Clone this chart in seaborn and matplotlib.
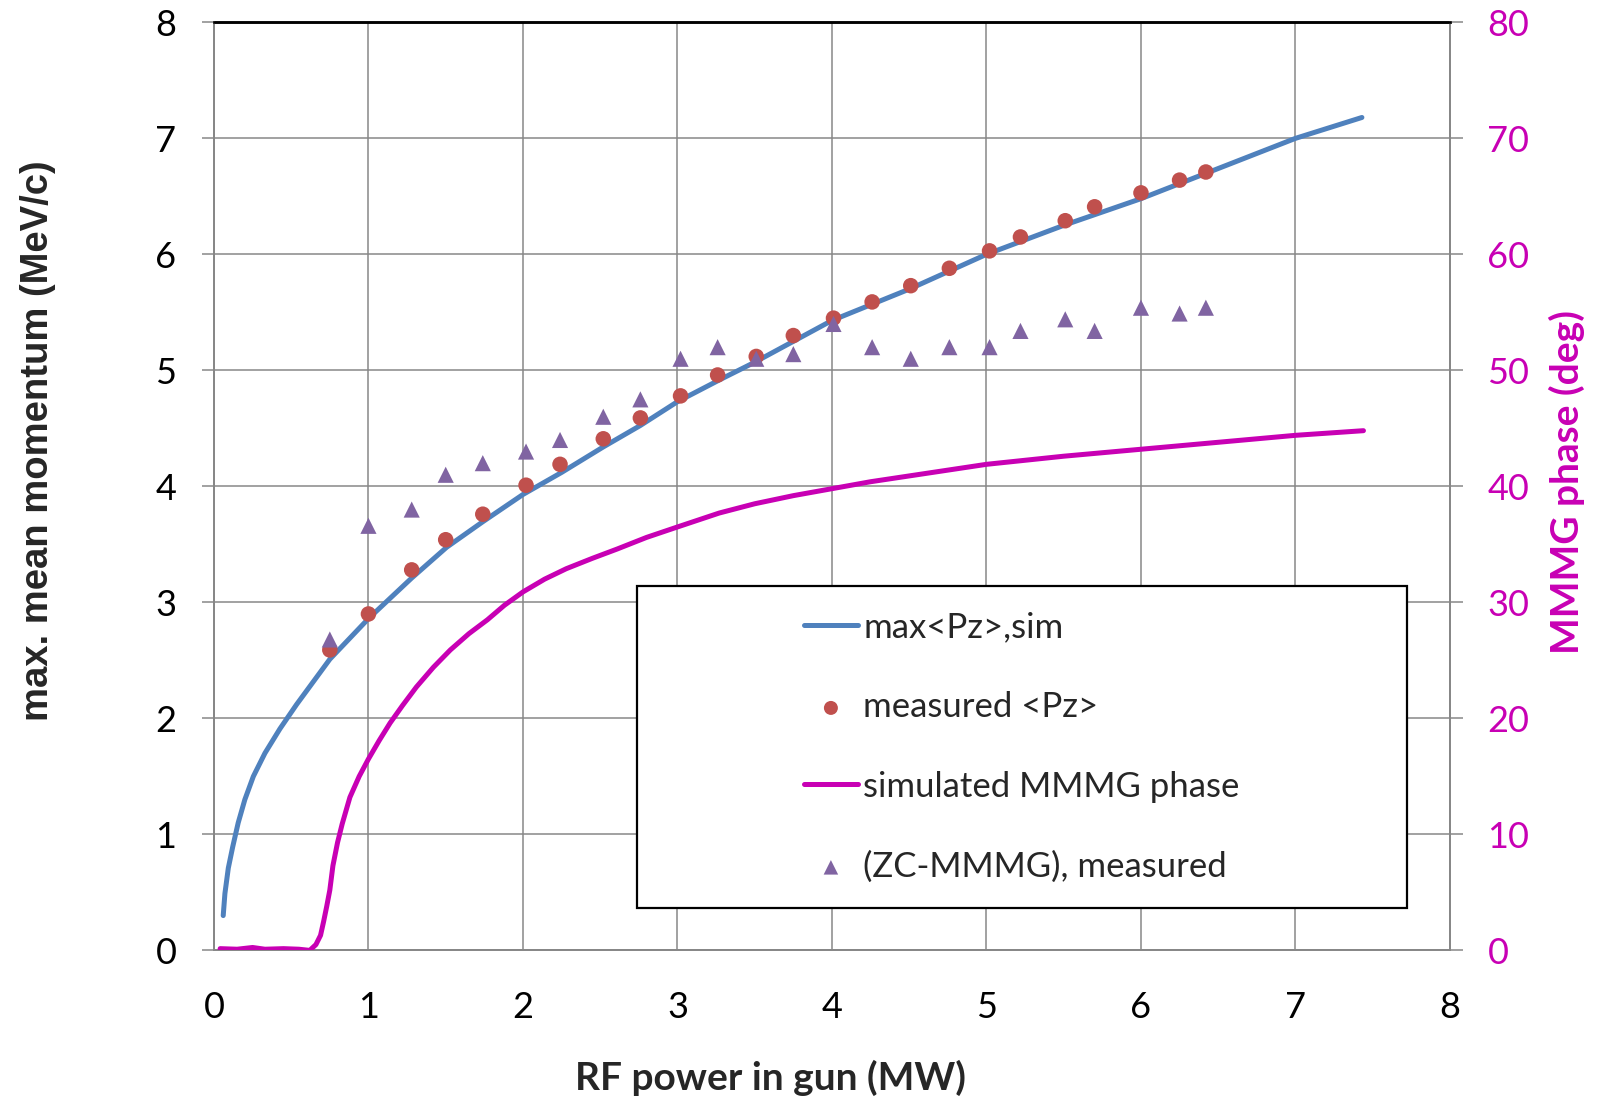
import matplotlib
matplotlib.use("Agg")
import matplotlib.pyplot as plt
from matplotlib.patches import Rectangle
import seaborn as sns
import pandas as pd

# Simulated maximum mean momentum vs RF power (MeV/c)
sim_power = [0.06, 0.071, 0.093, 0.121, 0.157, 0.20, 0.255, 0.33, 0.427, 0.535, 0.75,
             1.0, 1.28, 1.506, 1.74, 2.0, 2.25, 2.52, 2.76, 3.0, 3.275, 3.5, 4.0,
             4.5, 5.0, 5.5, 6.0, 6.5, 7.0, 7.43]
sim_pz = [0.30, 0.49, 0.71, 0.89, 1.10, 1.30, 1.50, 1.70, 1.91, 2.12, 2.51,
          2.86, 3.21, 3.475, 3.695, 3.93, 4.12, 4.34, 4.525, 4.73, 4.92, 5.07, 5.43,
          5.70, 6.00, 6.25, 6.48, 6.74, 7.00, 7.18]

# Measured mean momentum (MeV/c)
meas_power = [0.75, 1.00, 1.28, 1.50, 1.74, 2.02, 2.24, 2.52, 2.76, 3.02, 3.26, 3.51,
              3.75, 4.01, 4.26, 4.51, 4.76, 5.02, 5.22, 5.51, 5.70, 6.00, 6.25, 6.42]
meas_pz = [2.59, 2.90, 3.28, 3.54, 3.76, 4.01, 4.19, 4.41, 4.59, 4.78, 4.96, 5.12,
           5.30, 5.45, 5.59, 5.73, 5.88, 6.03, 6.15, 6.29, 6.41, 6.53, 6.64, 6.71]

# Simulated MMMG phase (deg)
phase_power = [0.04, 0.15, 0.25, 0.33, 0.45, 0.55, 0.62, 0.66, 0.69, 0.71, 0.73, 0.75,
               0.77, 0.80, 0.83, 0.88, 0.94, 1.0, 1.07, 1.14, 1.22, 1.31, 1.42, 1.53,
               1.65, 1.77, 1.88, 2.0, 2.14, 2.28, 2.45, 2.61, 2.8, 3.0, 3.27, 3.5,
               3.75, 4.0, 4.25, 4.5, 5.0, 5.5, 6.0, 6.5, 7.0, 7.44]
phase_sim = [0.15, 0.1, 0.25, 0.1, 0.15, 0.1, 0.0, 0.5, 1.3, 2.5, 3.8, 5.2,
             7.3, 9.3, 10.9, 13.2, 15.0, 16.5, 18.1, 19.6, 21.1, 22.7, 24.4, 25.9,
             27.3, 28.5, 29.75, 30.9, 32.0, 32.9, 33.8, 34.6, 35.6, 36.5, 37.7, 38.5,
             39.2, 39.8, 40.4, 40.9, 41.9, 42.6, 43.2, 43.8, 44.4, 44.8]

# Measured (ZC - MMMG) phase (deg)
zc_power = [0.75, 1.00, 1.28, 1.50, 1.74, 2.02, 2.24, 2.52, 2.76, 3.02, 3.26, 3.51,
            3.75, 4.01, 4.26, 4.51, 4.76, 5.02, 5.22, 5.51, 5.70, 6.00, 6.25, 6.42]
zc_phase = [26.8, 36.6, 38.0, 41.0, 42.0, 43.0, 44.0, 46.0, 47.5, 51.0, 52.0, 51.0,
            51.4, 54.0, 52.0, 51.0, 52.0, 52.0, 53.4, 54.4, 53.4, 55.4, 54.9, 55.4]

x_ticks = [0, 1, 2, 3, 4, 5, 6, 7, 8]
left_ticks = [0, 1, 2, 3, 4, 5, 6, 7, 8]
right_ticks = [0, 10, 20, 30, 40, 50, 60, 70, 80]

BLUE = "#4F81BD"
RED = "#C0504D"
PURPLE = "#8064A2"
MAGENTA = "#C800B4"
GRID = "#878787"

sns.set_style("white")
plt.rcParams["font.family"] = ["Lato", "DejaVu Sans"]

fig = plt.figure(figsize=(15.99, 11.01), dpi=100)
ax = fig.add_axes([0.1338, 0.1368, 0.7730, 0.8429])
ax2 = ax.twinx()

sim_df = pd.DataFrame({"power": sim_power, "pz": sim_pz})
meas_df = pd.DataFrame({"power": meas_power, "pz": meas_pz})
phase_df = pd.DataFrame({"power": phase_power, "phase": phase_sim})
zc_df = pd.DataFrame({"power": zc_power, "phase": zc_phase})

sns.lineplot(data=sim_df, x="power", y="pz", ax=ax, color=BLUE, lw=3.6,
             sort=False, estimator=None, label="max<Pz>,sim",
             solid_capstyle="round", solid_joinstyle="round", zorder=3)
sns.scatterplot(data=meas_df, x="power", y="pz", ax=ax, color=RED, s=125,
                marker="o", edgecolor="none", label="measured <Pz>", zorder=4)
sns.lineplot(data=phase_df, x="power", y="phase", ax=ax2, color=MAGENTA, lw=3.6,
             sort=False, estimator=None, label="simulated MMMG phase",
             solid_capstyle="round", solid_joinstyle="round", zorder=3)
sns.scatterplot(data=zc_df, x="power", y="phase", ax=ax2, color=PURPLE, s=135,
                marker="^", edgecolor="none", label="(ZC-MMMG), measured", zorder=4)

ax.set_xlim(0, 8)
ax.set_ylim(0, 8)
ax2.set_ylim(0, 80)
ax.set_xticks(x_ticks)
ax.set_yticks(left_ticks)
ax2.set_yticks(right_ticks)
ax.set_xticklabels([str(v) for v in x_ticks])
ax.set_yticklabels([str(v) for v in left_ticks])
ax2.set_yticklabels([str(v) for v in right_ticks])

ax.grid(True, color=GRID, lw=1.1)
ax.set_axisbelow(True)
ax.set_xlabel("")
ax.set_ylabel("")
ax2.set_ylabel("")

for a in (ax, ax2):
    for side in ("left", "right", "bottom"):
        a.spines[side].set_color(GRID)
        a.spines[side].set_linewidth(1.3)
    a.spines["top"].set_color("black")
    a.spines["top"].set_linewidth(1.8)

ax.tick_params(axis="x", direction="out", length=9, width=1.1, color=GRID,
               labelsize=26, pad=20, labelcolor="black")
ax.tick_params(axis="y", direction="out", length=9, width=1.1, color=GRID,
               labelsize=26, pad=18, labelcolor="black")
ax2.tick_params(axis="y", direction="out", length=9, width=1.1, color=GRID,
                labelsize=26, pad=18, labelcolor=MAGENTA)

# Axis titles
fig.text(0.482, 0.021, "RF power in gun (MW)", fontsize=28, fontweight="bold",
         ha="center", va="center")
fig.text(0.0235, 0.600, "max. mean momentum (MeV/c)", fontsize=27.5, fontweight="bold",
         family=["Liberation Sans", "DejaVu Sans"], rotation=90,
         ha="center", va="center")
fig.text(0.980, 0.562, "MMMG phase (deg)", fontsize=28, fontweight="bold",
         color=MAGENTA, rotation=90, ha="center", va="center")

# Legend with a boxed frame
h1, l1 = ax.get_legend_handles_labels()
h2, l2 = ax2.get_legend_handles_labels()
if ax.get_legend() is not None:
    ax.get_legend().remove()
box = Rectangle((0.342, 0.0457), 0.623, 0.3470, transform=ax2.transAxes,
                facecolor="white", edgecolor="black", lw=1.6, zorder=5)
ax2.add_patch(box)
leg = ax2.legend(h1 + h2, l1 + l2, loc="center",
                 bbox_to_anchor=(0.342 + 0.623 / 2, 0.0457 + 0.347 / 2),
                 frameon=False, fontsize=25, handlelength=1.55,
                 handletextpad=0.15, labelspacing=1.37, markerscale=0.9)
leg.set_zorder(6)

fig.savefig("out.png", dpi=100)
